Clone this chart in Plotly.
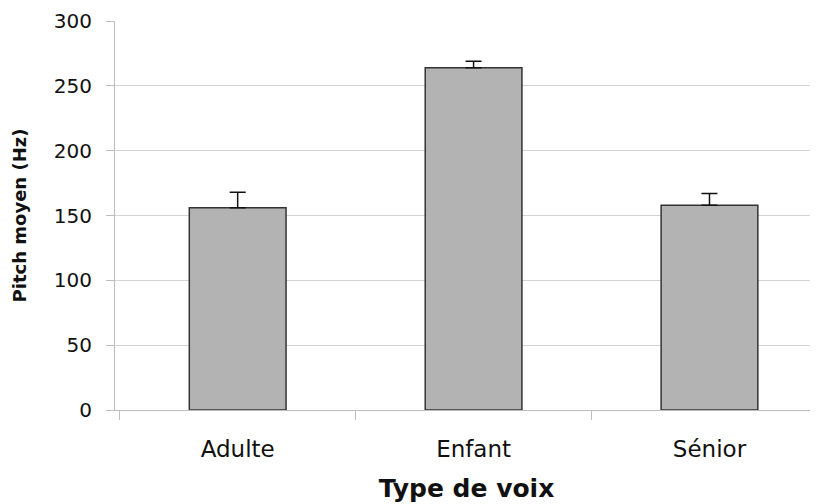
import plotly.graph_objects as go

categories = ["Adulte", "Enfant", "Sénior"]
pitch_mean = [156, 264, 158]
pitch_err = [12, 5, 9]
y_ticks = [0, 50, 100, 150, 200, 250, 300]

fig = go.Figure()
fig.add_trace(go.Bar(
    x=categories,
    y=pitch_mean,
    width=0.41,
    marker=dict(color="#b3b3b3", line=dict(color="#333333", width=1.5)),
    error_y=dict(type="data", array=pitch_err, symmetric=False, arrayminus=[0, 0, 0],
                 color="#111111", thickness=1.5, width=8),
))

fig.update_layout(
    width=818, height=504,
    margin=dict(l=107, r=8, t=13, b=102, autoexpand=False),
    paper_bgcolor="white", plot_bgcolor="white",
    showlegend=False,
    font=dict(family="DejaVu Sans", size=20, color="#111111"),
    xaxis=dict(
        range=[-0.52, 2.46],
        automargin=False,
        showline=True, linecolor="#bdbdbd", linewidth=1,
        ticks="outside", tickson="boundaries", ticklen=9, tickcolor="#bdbdbd",
        tickfont=dict(size=23),
        ticklabelstandoff=18,
        title=dict(text="Type de voix", font=dict(family="DejaVu Sans", size=25, weight="bold"), standoff=18),
    ),
    yaxis=dict(
        range=[0, 300], tickvals=y_ticks,
        automargin=False,
        showline=True, linecolor="#bdbdbd", linewidth=1,
        showgrid=True, gridcolor="#d4d4d4", gridwidth=1,
        ticks="outside", ticklen=8, tickcolor="#bdbdbd",
        ticklabelstandoff=10,
        zeroline=False,
        title=dict(text="Pitch moyen (Hz)", font=dict(family="DejaVu Sans", size=18, weight="bold"), standoff=22),
    ),
)

fig.write_html("out.html")
